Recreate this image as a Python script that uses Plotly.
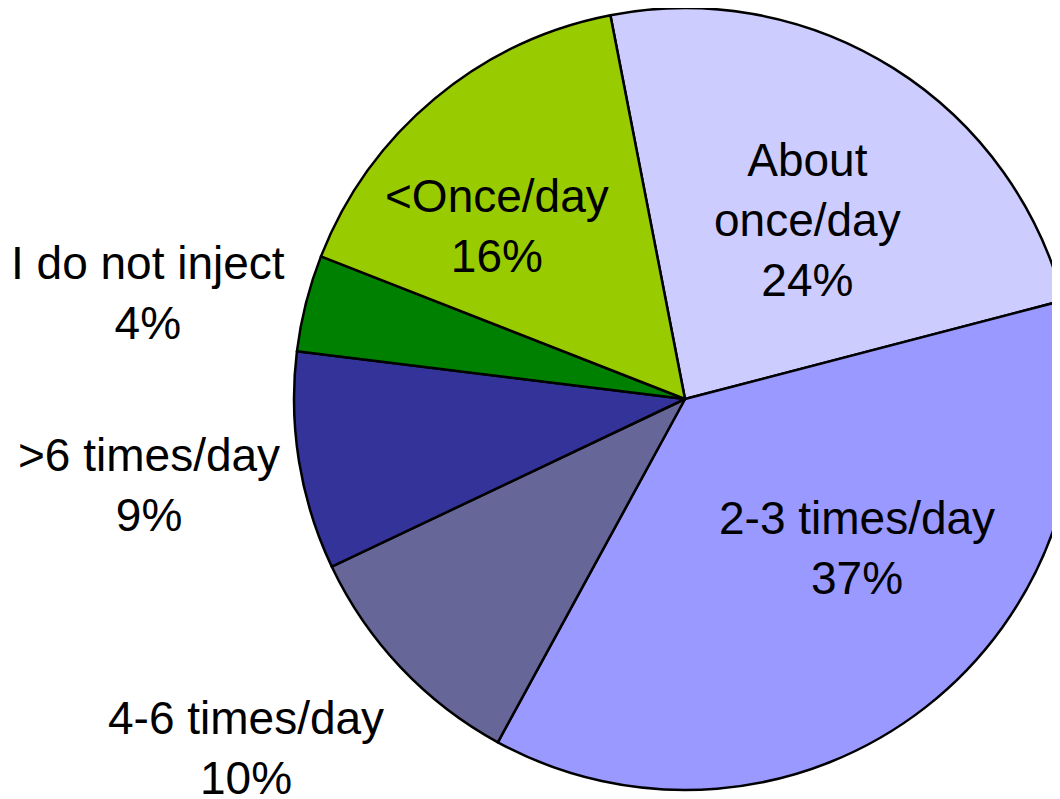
import plotly.graph_objects as go

# Data
categories = ["About once/day", "2-3 times/day", "4-6 times/day",
              ">6 times/day", "I do not inject", "<Once/day"]
shares = [24, 37, 10, 9, 4, 16]
label_text = ["About<br>once/day", "2-3 times/day", "4-6 times/day",
              ">6 times/day", "I do not inject", "<Once/day"]

# Styles
colors = ["#CCCCFF", "#9999FF", "#666699", "#333399", "#008000", "#99CC00"]
W, H = 1070, 790
# label anchor positions in figure pixels (layout only)
label_pos_px = [(799, 212), (849, 540), (238, 740), (141, 477), (140, 285), (489, 218)]

fig = go.Figure(go.Pie(
    labels=categories,
    values=shares,
    sort=False,
    direction="clockwise",
    rotation=-11,
    marker=dict(colors=colors, line=dict(color="black", width=2.5)),
    textinfo="none",
    hoverinfo="label+percent",
    showlegend=False,
    domain=dict(x=[286 / W, 1068 / W], y=[1 - 782 / H, 1.0]),
))

for txt, val, (px, py) in zip(label_text, shares, label_pos_px):
    fig.add_annotation(
        x=px / W, y=1 - py / H, xref="paper", yref="paper",
        text=f"{txt}<br>{val}%", showarrow=False,
        xanchor="center", yanchor="middle", align="center",
        font=dict(family="Liberation Sans, Arial, sans-serif", size=46, color="black"),
    )

fig.update_layout(
    width=W, height=H,
    margin=dict(l=0, r=0, t=0, b=0),
    paper_bgcolor="white", plot_bgcolor="white",
)

fig.write_html("out.html")
